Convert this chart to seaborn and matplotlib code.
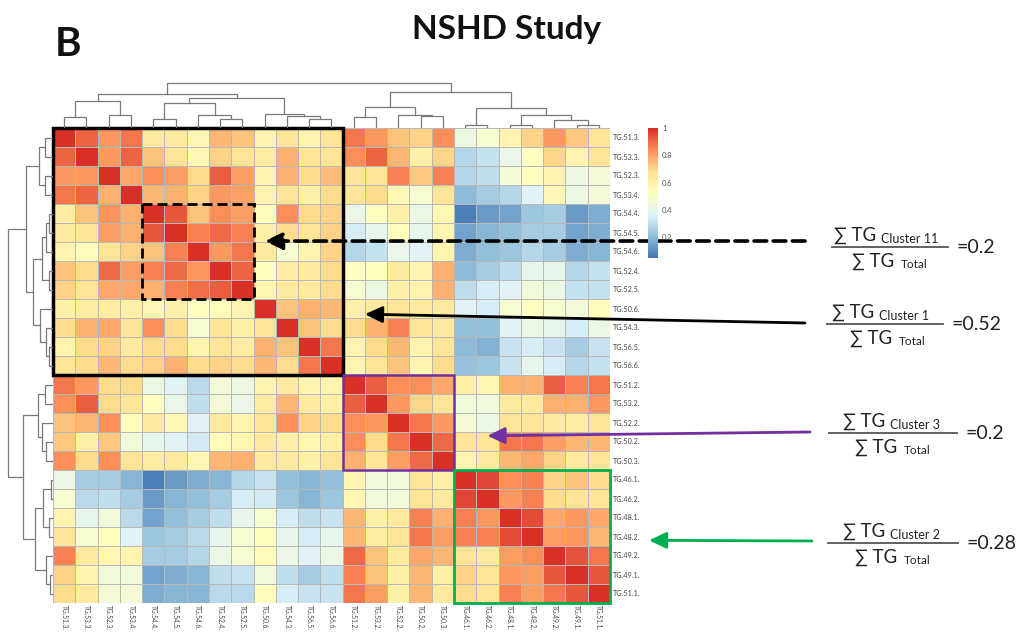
import numpy as np
import pandas as pd
import matplotlib
matplotlib.use("Agg")
import matplotlib.pyplot as plt
from matplotlib.colors import LinearSegmentedColormap
from matplotlib.patches import Rectangle
from matplotlib.lines import Line2D
import seaborn as sns

W, H, DPI = 1020, 644, 100

tg_labels = [
    "TG.51.3.", "TG.53.3.", "TG.52.3.", "TG.53.4.", "TG.54.4.", "TG.54.5.",
    "TG.54.6.", "TG.52.4.", "TG.52.5.", "TG.50.6.", "TG.54.3.", "TG.56.5.",
    "TG.56.6.", "TG.51.2.", "TG.53.2.", "TG.52.2.", "TG.50.2.", "TG.50.3.",
    "TG.46.1.", "TG.46.2.", "TG.48.1.", "TG.48.2.", "TG.49.2.", "TG.49.1.",
    "TG.51.1.",
]

# pairwise correlation between triglyceride species (ordered by clustering)
corr = [
    [1.00,0.91,0.82,0.88,0.63,0.63,0.56,0.76,0.74,0.58,0.66,0.58,0.66,0.88,0.82,0.74,0.71,0.84,0.43,0.48,0.58,0.71,0.82,0.73,0.66],
    [0.91,1.00,0.82,0.91,0.74,0.66,0.56,0.71,0.66,0.62,0.77,0.66,0.66,0.84,0.91,0.76,0.60,0.70,0.28,0.31,0.41,0.52,0.70,0.58,0.66],
    [0.82,0.82,1.00,0.79,0.84,0.81,0.69,0.92,0.81,0.58,0.77,0.69,0.75,0.66,0.66,0.86,0.73,0.86,0.28,0.30,0.46,0.52,0.58,0.43,0.46],
    [0.88,0.91,0.77,1.00,0.76,0.77,0.71,0.82,0.80,0.58,0.66,0.60,0.69,0.66,0.69,0.56,0.48,0.66,0.20,0.25,0.28,0.37,0.56,0.43,0.46],
    [0.62,0.74,0.83,0.77,1.00,0.93,0.74,0.84,0.81,0.54,0.84,0.69,0.71,0.42,0.52,0.60,0.42,0.56,0.07,0.13,0.15,0.23,0.25,0.13,0.17],
    [0.63,0.66,0.81,0.77,0.93,1.00,0.86,0.90,0.86,0.60,0.69,0.66,0.71,0.35,0.40,0.54,0.40,0.58,0.15,0.19,0.21,0.25,0.25,0.15,0.17],
    [0.58,0.54,0.66,0.71,0.74,0.86,1.00,0.82,0.88,0.63,0.48,0.58,0.71,0.28,0.31,0.41,0.37,0.58,0.17,0.21,0.23,0.28,0.25,0.17,0.19],
    [0.74,0.69,0.90,0.81,0.86,0.90,0.82,1.00,0.91,0.52,0.62,0.63,0.69,0.52,0.52,0.63,0.58,0.77,0.20,0.25,0.30,0.40,0.40,0.28,0.31],
    [0.71,0.66,0.79,0.79,0.77,0.86,0.89,0.92,1.00,0.57,0.63,0.63,0.69,0.48,0.43,0.60,0.58,0.77,0.30,0.35,0.37,0.45,0.43,0.31,0.31],
    [0.60,0.62,0.62,0.60,0.56,0.60,0.52,0.54,0.58,1.00,0.74,0.77,0.76,0.60,0.63,0.66,0.63,0.63,0.37,0.35,0.48,0.52,0.48,0.45,0.54],
    [0.69,0.77,0.79,0.66,0.84,0.69,0.48,0.66,0.60,0.66,1.00,0.74,0.69,0.69,0.77,0.86,0.66,0.63,0.21,0.21,0.37,0.42,0.40,0.35,0.43],
    [0.58,0.69,0.71,0.63,0.69,0.69,0.58,0.66,0.62,0.77,0.74,1.00,0.88,0.58,0.69,0.76,0.58,0.66,0.20,0.18,0.32,0.35,0.32,0.25,0.32],
    [0.66,0.69,0.76,0.69,0.71,0.77,0.69,0.71,0.69,0.76,0.69,0.88,1.00,0.58,0.66,0.74,0.58,0.69,0.22,0.23,0.32,0.40,0.35,0.28,0.31],
    [0.88,0.82,0.69,0.69,0.42,0.37,0.29,0.46,0.43,0.58,0.63,0.58,0.58,1.00,0.92,0.84,0.84,0.79,0.60,0.57,0.77,0.77,0.92,0.86,0.88],
    [0.84,0.92,0.69,0.66,0.52,0.41,0.30,0.46,0.41,0.62,0.76,0.63,0.60,0.92,1.00,0.82,0.70,0.66,0.45,0.45,0.63,0.63,0.77,0.77,0.82],
    [0.74,0.76,0.84,0.54,0.63,0.56,0.37,0.63,0.58,0.66,0.84,0.71,0.69,0.84,0.82,1.00,0.88,0.82,0.46,0.43,0.66,0.66,0.63,0.62,0.66],
    [0.73,0.60,0.73,0.45,0.40,0.37,0.34,0.54,0.57,0.63,0.60,0.57,0.60,0.84,0.69,0.88,1.00,0.90,0.66,0.66,0.88,0.88,0.81,0.76,0.76],
    [0.84,0.69,0.84,0.66,0.62,0.63,0.56,0.76,0.77,0.63,0.63,0.60,0.66,0.77,0.66,0.81,0.90,1.00,0.58,0.63,0.76,0.79,0.71,0.63,0.66],
    [0.43,0.25,0.25,0.19,0.07,0.13,0.17,0.19,0.28,0.32,0.21,0.19,0.21,0.58,0.45,0.45,0.66,0.60,1.00,0.96,0.84,0.86,0.71,0.74,0.69],
    [0.48,0.29,0.30,0.25,0.13,0.19,0.21,0.25,0.35,0.34,0.23,0.19,0.23,0.57,0.45,0.45,0.66,0.63,0.96,1.00,0.82,0.86,0.69,0.66,0.66],
    [0.58,0.40,0.45,0.29,0.15,0.21,0.25,0.30,0.40,0.48,0.35,0.30,0.32,0.76,0.60,0.63,0.86,0.77,0.86,0.82,1.00,0.95,0.79,0.82,0.79],
    [0.66,0.48,0.52,0.37,0.23,0.25,0.29,0.40,0.48,0.52,0.40,0.35,0.40,0.76,0.62,0.66,0.88,0.81,0.86,0.86,0.95,1.00,0.81,0.82,0.76],
    [0.86,0.63,0.57,0.58,0.25,0.25,0.28,0.42,0.48,0.54,0.42,0.37,0.42,0.90,0.74,0.63,0.79,0.76,0.66,0.63,0.81,0.84,1.00,0.94,0.88],
    [0.71,0.58,0.45,0.45,0.15,0.17,0.19,0.30,0.32,0.45,0.30,0.25,0.30,0.86,0.74,0.60,0.76,0.60,0.71,0.66,0.82,0.81,0.93,1.00,0.93],
    [0.69,0.63,0.46,0.46,0.17,0.19,0.19,0.29,0.29,0.54,0.35,0.32,0.32,0.88,0.81,0.60,0.76,0.63,0.69,0.66,0.86,0.81,0.88,0.93,1.00],
]

# hierarchical merges: (left id, right id, height); new ids continue after the leaves
col_merges = [
    (0, 1, 54), (2, 3, 62), (25, 26, 132), (4, 5, 44), (7, 8, 44), (6, 29, 62),
    (28, 30, 120), (11, 12, 44), (10, 32, 57), (9, 33, 67), (31, 34, 144),
    (27, 35, 167), (13, 14, 52), (16, 17, 57), (15, 38, 62), (37, 39, 102),
    (18, 19, 14), (20, 21, 17), (23, 24, 14), (22, 43, 40), (42, 44, 62),
    (41, 45, 97), (40, 46, 174), (36, 47, 220),
]
row_merges = [
    (0, 1, 25), (2, 3, 25), (25, 26, 42), (4, 5, 12), (28, 6, 22), (7, 8, 12),
    (29, 30, 32), (11, 12, 12), (10, 32, 20), (9, 33, 38), (31, 34, 60),
    (27, 35, 80), (13, 14, 25), (16, 17, 22), (15, 38, 32), (37, 39, 44),
    (18, 19, 5), (20, 21, 12), (41, 42, 30), (23, 24, 10), (22, 44, 20),
    (43, 45, 55), (40, 46, 90), (36, 47, 135),
]

# highlighted clusters: first and last index (exclusive) along the ordered axis
cluster_names = ["Cluster 1", "Cluster 11", "Cluster 3", "Cluster 2"]
cluster_start = [0, 4, 13, 18]
cluster_stop = [13, 9, 18, 25]
cluster_share = [0.52, 0.2, 0.2, 0.28]

colorbar_ticks = [0.2, 0.4, 0.6, 0.8, 1.0]
colorbar_ticklabels = ["0.2", "0.4", "0.6", "0.8", "1"]

FONT = ["Lato", "DejaVu Sans"]
plt.rcParams["font.family"] = FONT

fig = plt.figure(figsize=(W / DPI, H / DPI), dpi=DPI)
fig.patch.set_facecolor("white")


def rect(x0, y0, x1, y1):
    return [x0 / W, 1 - y1 / H, (x1 - x0) / W, (y1 - y0) / H]


def fx(x):
    return x / W


def fy(y):
    return 1 - y / H


ax_hm = fig.add_axes(rect(53, 128, 610, 603))
ax_cd = fig.add_axes(rect(53, 78, 610, 128))
ax_rd = fig.add_axes(rect(0, 128, 53, 603))
ax_cb = fig.add_axes(rect(648, 128, 658, 258))

cmap = LinearSegmentedColormap.from_list(
    "rdylbu7", ["#4575b4", "#91bfdb", "#e0f3f8", "#ffffbf", "#fee090", "#fc8d59", "#d73027"]
)
df = pd.DataFrame(np.array(corr), index=tg_labels, columns=tg_labels)
sns.heatmap(
    df, ax=ax_hm, cmap=cmap, vmin=0.05, vmax=1.0,
    linewidths=0.6, linecolor="#b8b8b8",
    cbar_ax=ax_cb, cbar_kws={"ticks": colorbar_ticks},
    xticklabels=True, yticklabels=True,
)
ax_hm.yaxis.tick_right()
ax_hm.set_yticklabels(tg_labels, rotation=0)
ax_hm.set_xticklabels(tg_labels, rotation=270)
ax_hm.tick_params(axis="y", length=0, labelsize=5.2, labelcolor="#444444", pad=2)
ax_hm.tick_params(axis="x", length=0, labelsize=4.8, labelcolor="#444444", pad=1.5)
ax_hm.set_xlabel("")
ax_hm.set_ylabel("")

cbar = ax_hm.collections[0].colorbar
cbar.outline.set_visible(False)
cbar.set_ticks(colorbar_ticks)
cbar.set_ticklabels(colorbar_ticklabels)
cbar.ax.tick_params(length=0, labelsize=5.5, labelcolor="#555555", pad=3)


def dendro_segments(merges, n):
    pos = {i: i + 0.5 for i in range(n)}
    hgt = {i: 0.0 for i in range(n)}
    segs = []
    for k, (a, b, h) in enumerate(merges):
        xa, xb = pos[a], pos[b]
        segs.append(([xa, xa, xb, xb], [hgt[a], h, h, hgt[b]]))
        pos[n + k] = (xa + xb) / 2
        hgt[n + k] = h
    return segs


n = len(tg_labels)
for xs, hs in dendro_segments(col_merges, n):
    ax_cd.plot(xs, hs, color="#7a7a7a", lw=0.9, solid_joinstyle="miter")
ax_cd.set_xlim(0, n)
ax_cd.set_ylim(0, 244)
ax_cd.axis("off")

for ys, hs in dendro_segments(row_merges, n):
    ax_rd.plot(hs, ys, color="#7a7a7a", lw=0.9, solid_joinstyle="miter")
ax_rd.set_ylim(n, 0)
ax_rd.set_xlim(160, 0)
ax_rd.axis("off")

# cluster outlines on the heatmap
box_styles = {
    "Cluster 1": dict(edgecolor="black", lw=2.5, linestyle="-"),
    "Cluster 11": dict(edgecolor="black", lw=2.0, linestyle=(0, (3.6, 1.8))),
    "Cluster 3": dict(edgecolor="#7030a0", lw=1.8, linestyle="-"),
    "Cluster 2": dict(edgecolor="#00b050", lw=2.0, linestyle="-"),
}
for name, s, e in zip(cluster_names, cluster_start, cluster_stop):
    ax_hm.add_patch(Rectangle((s, s), e - s, e - s, facecolor="none",
                              clip_on=False, zorder=5, **box_styles[name]))

# arrows from each ratio to its cluster
arrow_specs = {
    "Cluster 11": dict(tip=(9.5, 5.95), tail=(805, 241), color="black", lw=2.6,
                       ls=(0, (3.5, 1.8))),
    "Cluster 1": dict(tip=(14.0, 9.8), tail=(805, 323), color="black", lw=2.0, ls="-"),
    "Cluster 3": dict(tip=(19.5, 16.2), tail=(810, 432), color="#7030a0", lw=2.0, ls="-"),
    "Cluster 2": dict(tip=(26.75, 21.7), tail=(812, 541), color="#00b050", lw=2.0, ls="-"),
}
for name in cluster_names:
    sp = arrow_specs[name]
    ax_hm.annotate(
        "", xy=sp["tip"], xycoords="data",
        xytext=(sp["tail"][0], H - sp["tail"][1]), textcoords="figure pixels",
        arrowprops=dict(arrowstyle="-|>,head_length=1.05,head_width=0.5",
                        color=sp["color"], lw=sp["lw"], linestyle=sp["ls"],
                        shrinkA=0, shrinkB=0),
        annotation_clip=False, zorder=6,
    )

# ratio formulas on the right (pixel layout: fraction bar span and text starts)
formula_pos = {
    "Cluster 11": dict(line_y=247, x0=832, x1=948, num_x=834, den_x=852),
    "Cluster 1": dict(line_y=324, x0=827, x1=943, num_x=832, den_x=850),
    "Cluster 3": dict(line_y=433, x0=829, x1=957, num_x=843, den_x=855),
    "Cluster 2": dict(line_y=543, x0=828, x1=958, num_x=843, den_x=855),
}
fig.canvas.draw()
renderer = fig.canvas.get_renderer()
TXT = "#222222"
for name, share in zip(cluster_names, cluster_share):
    p = formula_pos[name]
    ly = p["line_y"]
    t_num = fig.text(fx(p["num_x"]), fy(ly - 6), "∑ TG", fontsize=13.5, color=TXT,
                     va="baseline", ha="left", family=FONT)
    bb = t_num.get_window_extent(renderer)
    fig.text(fx(bb.x1 + 5), fy(ly - 4), name, fontsize=9, color=TXT,
             va="baseline", ha="left", family=FONT)
    t_den = fig.text(fx(p["den_x"]), fy(ly + 20), "∑ TG", fontsize=13.5, color=TXT,
                     va="baseline", ha="left", family=FONT)
    bd = t_den.get_window_extent(renderer)
    fig.text(fx(bd.x1 + 7), fy(ly + 21), "Total", fontsize=8.5, color=TXT,
             va="baseline", ha="left", family=FONT)
    fig.add_artist(Line2D([fx(p["x0"]), fx(p["x1"])], [fy(ly), fy(ly)],
                          lw=1.3, color="#555555"))
    fig.text(fx(p["x1"] + 9), fy(ly + 6), f"={share:g}", fontsize=14, color=TXT,
             va="baseline", ha="left", family=FONT)

fig.text(fx(507), fy(30), "NSHD Study", fontsize=24, fontweight="bold",
         ha="center", va="center", color="#111111", family=FONT)
fig.text(fx(68), fy(45), "B", fontsize=29, fontweight="bold",
         ha="center", va="center", color="#111111", family=FONT)

fig.savefig("out.png", dpi=DPI, facecolor="white")
